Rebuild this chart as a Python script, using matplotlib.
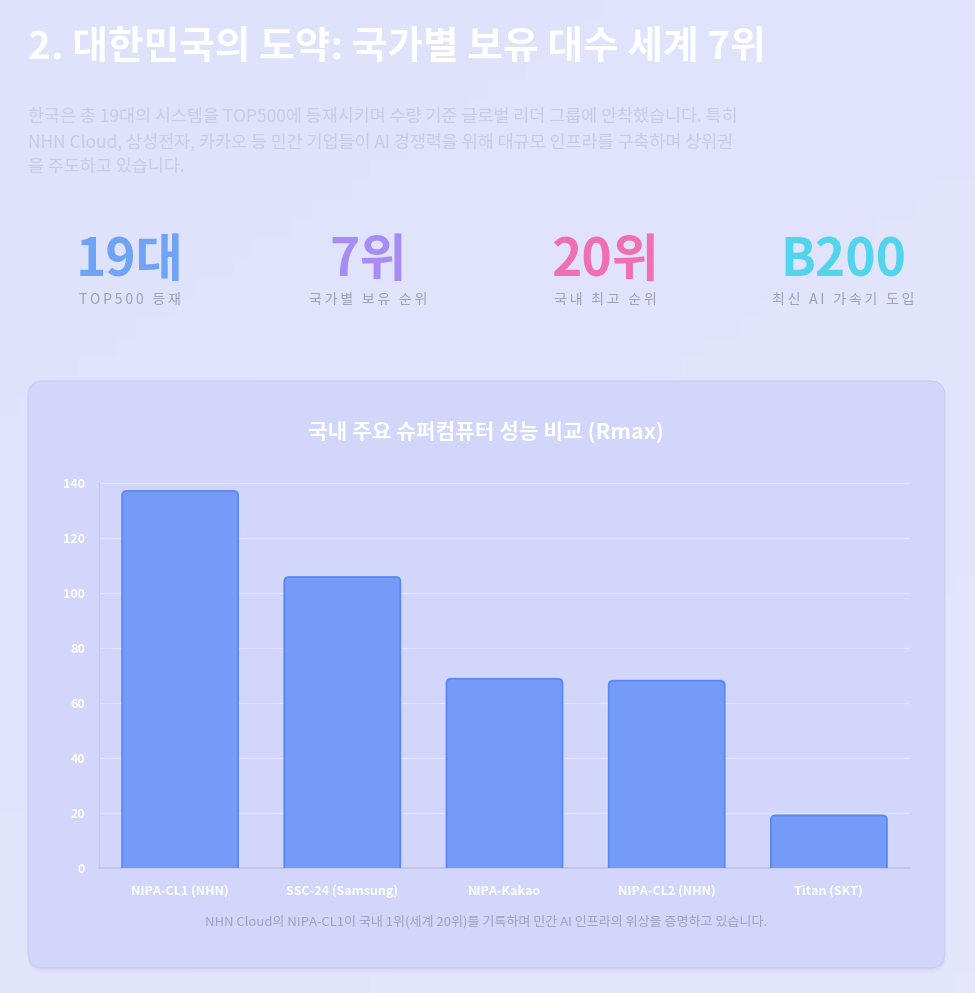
import matplotlib

matplotlib.use("Agg")
import matplotlib.pyplot as plt  # noqa: E402
import numpy as np  # noqa: E402
from matplotlib.patches import FancyBboxPatch  # noqa: E402

plt.rcParams["font.family"] = ["Noto Sans CJK KR", "DejaVu Sans"]

W, H = 975, 993

# --- data -------------------------------------------------------------
systems = ["NIPA-CL1 (NHN)", "SSC-24 (Samsung)", "NIPA-Kakao", "NIPA-CL2 (NHN)", "Titan (SKT)"]
rmax = [137.1, 105.8, 68.8, 68.1, 19.1]
y_ticks = [0, 20, 40, 60, 80, 100, 120, 140]

stat_values = ["19대", "7위", "20위", "B200"]
stat_labels = ["TOP500 등재", "국가별 보유 순위", "국내 최고 순위", "최신 AI 가속기 도입"]
stat_colors = ["#6fa3f6", "#a98bf4", "#f06fb3", "#52d4ec"]

title = "2. 대한민국의 도약: 국가별 보유 대수 세계 7위"
intro = [
    "한국은 총 19대의 시스템을 TOP500에 등재시키며 수량 기준 글로벌 리더 그룹에 안착했습니다. 특히",
    "NHN Cloud, 삼성전자, 카카오 등 민간 기업들이 AI 경쟁력을 위해 대규모 인프라를 구축하며 상위권",
    "을 주도하고 있습니다.",
]
chart_title = "국내 주요 슈퍼컴퓨터 성능 비교 (Rmax)"
caption = "NHN Cloud의 NIPA-CL1이 국내 1위(세계 20위)를 기록하며 민간 AI 인프라의 위상을 증명하고 있습니다."


def px(x, y):
    """pixel coords (top-left origin) -> figure fraction"""
    return x / W, 1 - y / H


def spaced(s):
    # letter-spacing look for the small stat captions
    return "\u2009".join(s)


fig = plt.figure(figsize=(W / 100, H / 100), dpi=100)

# background gradient
bg = fig.add_axes([0, 0, 1, 1], zorder=-10)
bg.axis("off")
gx, gy = np.meshgrid(np.linspace(0, 1, 50), np.linspace(0, 1, 50))
c0 = np.array([0xde, 0xe2, 0xfc]) / 255
c1 = np.array([0xe4, 0xe6, 0xfb]) / 255
t = (gx * 0.4 + gy * 0.6)[..., None]
bg.imshow(c0 * (1 - t) + c1 * t, extent=[0, 1, 0, 1], aspect="auto")
bg.set_xlim(0, 1)
bg.set_ylim(0, 1)

# card with soft shadow
cx0, cy0, cx1, cy1 = 28, 381, 945, 968
for i, a in enumerate([0.05, 0.04, 0.03]):
    off = 2 + i * 2
    sh = FancyBboxPatch(
        (cx0 / W, 1 - (cy1 + off) / H), (cx1 - cx0) / W, (cy1 - cy0) / H,
        boxstyle="round,pad=0,rounding_size=0.016", mutation_aspect=W / H,
        transform=fig.transFigure, facecolor="#8a8fc8", edgecolor="none",
        alpha=a, zorder=-5,
    )
    fig.patches.append(sh)
card = FancyBboxPatch(
    (cx0 / W, 1 - cy1 / H), (cx1 - cx0) / W, (cy1 - cy0) / H,
    boxstyle="round,pad=0,rounding_size=0.016", mutation_aspect=W / H,
    transform=fig.transFigure, facecolor="#d1d6fa", edgecolor="#c9cdf3",
    linewidth=0.8, zorder=-4,
)
fig.patches.append(card)

# header texts
fig.text(*px(28, 47), title, fontsize=27.9, weight="bold", color="white", va="center")
for i, line in enumerate(intro):
    fig.text(*px(28, 117 + i * 25), line, fontsize=12.5, color="#c9cce3", va="center")

stat_x = [130, 368, 605, 843]
for x, v, lab, col in zip(stat_x, stat_values, stat_labels, stat_colors):
    fig.text(*px(x, 261), v, fontsize=37, weight="bold", color=col, ha="center", va="center")
    fig.text(*px(x, 300), spaced(lab), fontsize=10.1, color="#9ca1b6", ha="center", va="center")

# chart
ax = fig.add_axes([99 / W, 1 - 868 / H, (910 - 99) / W, (868 - 483) / H])
ax.patch.set_alpha(0)
xs = np.arange(len(systems))
bars = ax.bar(xs, rmax, width=0.715, color="none", edgecolor="none")
for b in bars:
    x0, w, h = b.get_x(), b.get_width(), b.get_height()
    patch = FancyBboxPatch(
        (x0, -3), w, h + 3,
        boxstyle="round,pad=0,rounding_size=0.028", mutation_aspect=58,
        facecolor="#739bf7", edgecolor="#5b86f5", linewidth=1.3, zorder=3,
    )
    ax.add_patch(patch)

ax.set_xlim(-0.5, len(systems) - 0.5)
ax.set_ylim(0, 140)
ax.set_yticks(y_ticks)
ax.set_xticks(xs)
ax.set_xticklabels(systems)
ax.tick_params(axis="y", length=0, pad=10, labelsize=9, labelcolor="white")
ax.tick_params(axis="x", length=0, pad=12, labelsize=9, labelcolor="white")
for lab in ax.get_xticklabels() + ax.get_yticklabels():
    lab.set_fontweight("bold")
ax.grid(axis="y", color="white", alpha=0.35, linewidth=1)
ax.set_axisbelow(True)
for side in ["top", "right"]:
    ax.spines[side].set_visible(False)
ax.spines["left"].set_color("#c3c7ea")
ax.spines["bottom"].set_color("#bfc3e6")
ax.spines["bottom"].set_linewidth(1.2)

fig.text(*px(486, 432), chart_title, fontsize=15.4, weight="bold", color="white",
         ha="center", va="center")
fig.text(*px(486, 922), caption, fontsize=9.4, color="#9ea3ba", ha="center", va="center")

fig.savefig("out.png", dpi=100)
